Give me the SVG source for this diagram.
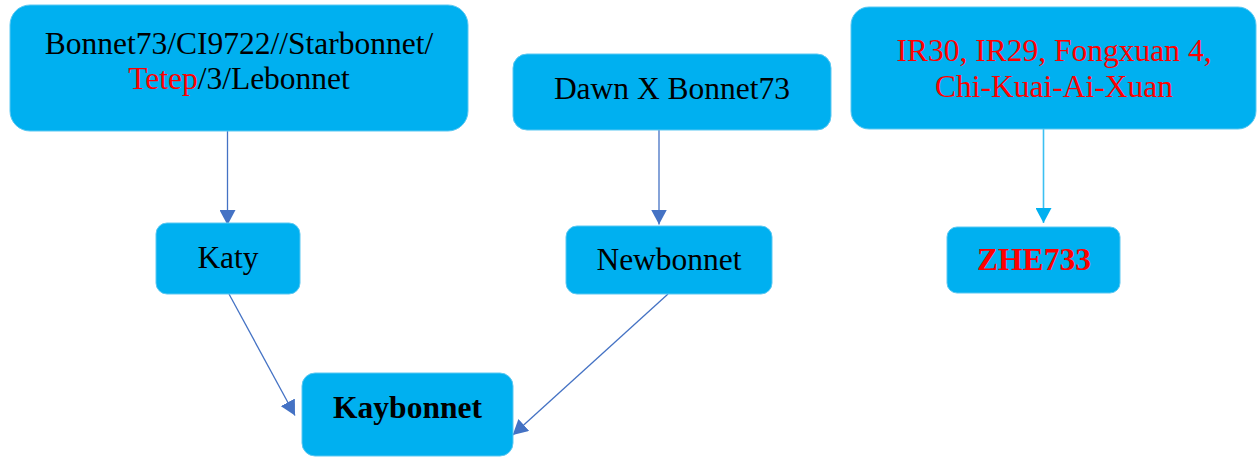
<svg xmlns="http://www.w3.org/2000/svg" width="1257" height="457" viewBox="0 0 1257 457">
<style>
.box{fill:#00B0F0;stroke:#5BC8F2;stroke-width:1}
.t{font-family:"Liberation Serif","Times New Roman",serif;font-size:31.5px;fill:#000;text-anchor:middle}
.b{font-weight:bold}
.red{fill:#FF0000}
.c{fill:none;stroke:#4472C4;stroke-width:1.3}
.c2{fill:none;stroke:#3CC0F2;stroke-width:1.6}
</style>
<defs>
<marker id="ah" markerUnits="userSpaceOnUse" markerWidth="16" markerHeight="16" refX="15" refY="8" orient="auto" viewBox="0 0 16 16">
<path d="M0,0 L15,8 L0,16 Z" fill="#4472C4"/>
</marker>
<marker id="ah2" markerUnits="userSpaceOnUse" markerWidth="16" markerHeight="16" refX="15" refY="8" orient="auto" viewBox="0 0 16 16">
<path d="M0,0 L15,8 L0,16 Z" fill="#00B0F0"/>
</marker>
</defs>
<g id="connectors">
<line class="c" x1="227.5" y1="131" x2="227.5" y2="225" marker-end="url(#ah)"/>
<line class="c" x1="659" y1="130" x2="659" y2="224.5" marker-end="url(#ah)"/>
<line class="c2" x1="1043.5" y1="129" x2="1043.5" y2="223" marker-end="url(#ah2)"/>
<line class="c" x1="229" y1="294" x2="295" y2="415.5" marker-end="url(#ah)"/>
<line class="c" x1="668" y1="294" x2="512.7" y2="435" marker-end="url(#ah)"/>
</g>
<g id="node-bonnet73">
<rect class="box" x="10" y="5" width="458" height="126" rx="20"/>
<text class="t" x="239" y="54">Bonnet73/CI9722//Starbonnet/</text>
<text class="t" x="239" y="89"><tspan class="red">Tetep</tspan>/3/Lebonnet</text>
</g>
<g id="node-dawn">
<rect class="box" x="513" y="54" width="318" height="76" rx="14"/>
<text class="t" x="672" y="99">Dawn X Bonnet73</text>
</g>
<g id="node-ir30">
<rect class="box" x="851" y="7" width="405" height="122" rx="18"/>
<text class="t red" x="1054" y="61">IR30, IR29, Fongxuan 4,</text>
<text class="t red" x="1054" y="97">Chi-Kuai-Ai-Xuan</text>
</g>
<g id="node-katy">
<rect class="box" x="156" y="223" width="144" height="71" rx="11"/>
<text class="t" x="228" y="268">Katy</text>
</g>
<g id="node-newbonnet">
<rect class="box" x="566" y="226" width="206" height="68" rx="11"/>
<text class="t" x="669" y="270">Newbonnet</text>
</g>
<g id="node-zhe733">
<rect class="box" x="947" y="227" width="173" height="66" rx="10"/>
<text class="t b red" x="1034" y="270">ZHE733</text>
</g>
<g id="node-kaybonnet">
<rect class="box" x="302" y="373" width="211" height="83" rx="13"/>
<text class="t b" x="407.5" y="418">Kaybonnet</text>
</g>
</svg>
